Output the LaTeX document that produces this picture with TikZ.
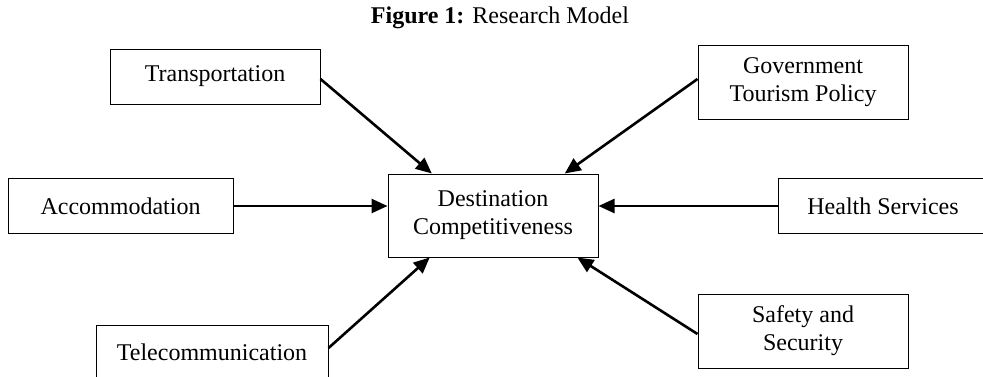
\documentclass[tikz,border=0pt]{standalone}
\usepackage{fontspec}
\setmainfont{Liberation Serif}
\usetikzlibrary{arrows.meta,positioning,calc}

\begin{document}
\begin{tikzpicture}[
            x=0.5pt,y=-0.5pt,
            box/.style={draw,rectangle,line width=0.5pt,fill=white,align=center,
                        minimum width=105pt,minimum height=27.5pt,inner sep=2pt,
                        font=\fontsize{12}{14}\selectfont},
            tallbox/.style={box,minimum height=37pt},
            line/.style={-{Triangle[length=8pt,width=7pt]},line width=1.3pt}
        ]
        \useasboundingbox (0,0) rectangle (983,376);
        \node[font=\fontsize{12}{14}\selectfont] (title) at (500,18)
            {\textbf{Figure 1:} Research Model};
        \node[box,minimum height=41.5pt] (dest) at (493,215.5)
            {Destination\\Competitiveness};
        % factors
        \node[box, above left=34.5pt and 33.5pt of dest] (transp) {Transportation};
        \node[tallbox, above right=27pt and 49.5pt of dest] (gov)
            {Government\\Tourism Policy};
        \node[box, left=77pt of dest, yshift=4.75pt, minimum width=112.5pt] (accom)
            {Accommodation};
        \node[box, right=89.5pt of dest, yshift=4.75pt] (health) {Health Services};
        \node[box, below left=33.5pt and 29.5pt of dest, minimum width=116pt] (telecom)
            {Telecommunication};
        \node[tallbox, below right=18pt and 49.5pt of dest] (safety)
            {Safety and\\Security};
        % arrows into the centre
        \draw[line] ([yshift=-1.25pt]transp.east) -- ($(dest.north west)!0.21!(dest.north east)$);
        \draw[line] ([yshift=1.5pt]gov.west) -- ($(dest.north west)!0.84!(dest.north east)$);
        \draw[line] (accom.east) -- (accom.east -| dest.west);
        \draw[line] (health.west) -- (health.west -| dest.east);
        \draw[line] ([yshift=2.25pt]telecom.east) -- ($(dest.south west)!0.2!(dest.south east)$);
        \draw[line] ([yshift=-1.5pt]safety.west) -- ($(dest.south west)!0.9!(dest.south east)$);
\end{tikzpicture}
\end{document}
